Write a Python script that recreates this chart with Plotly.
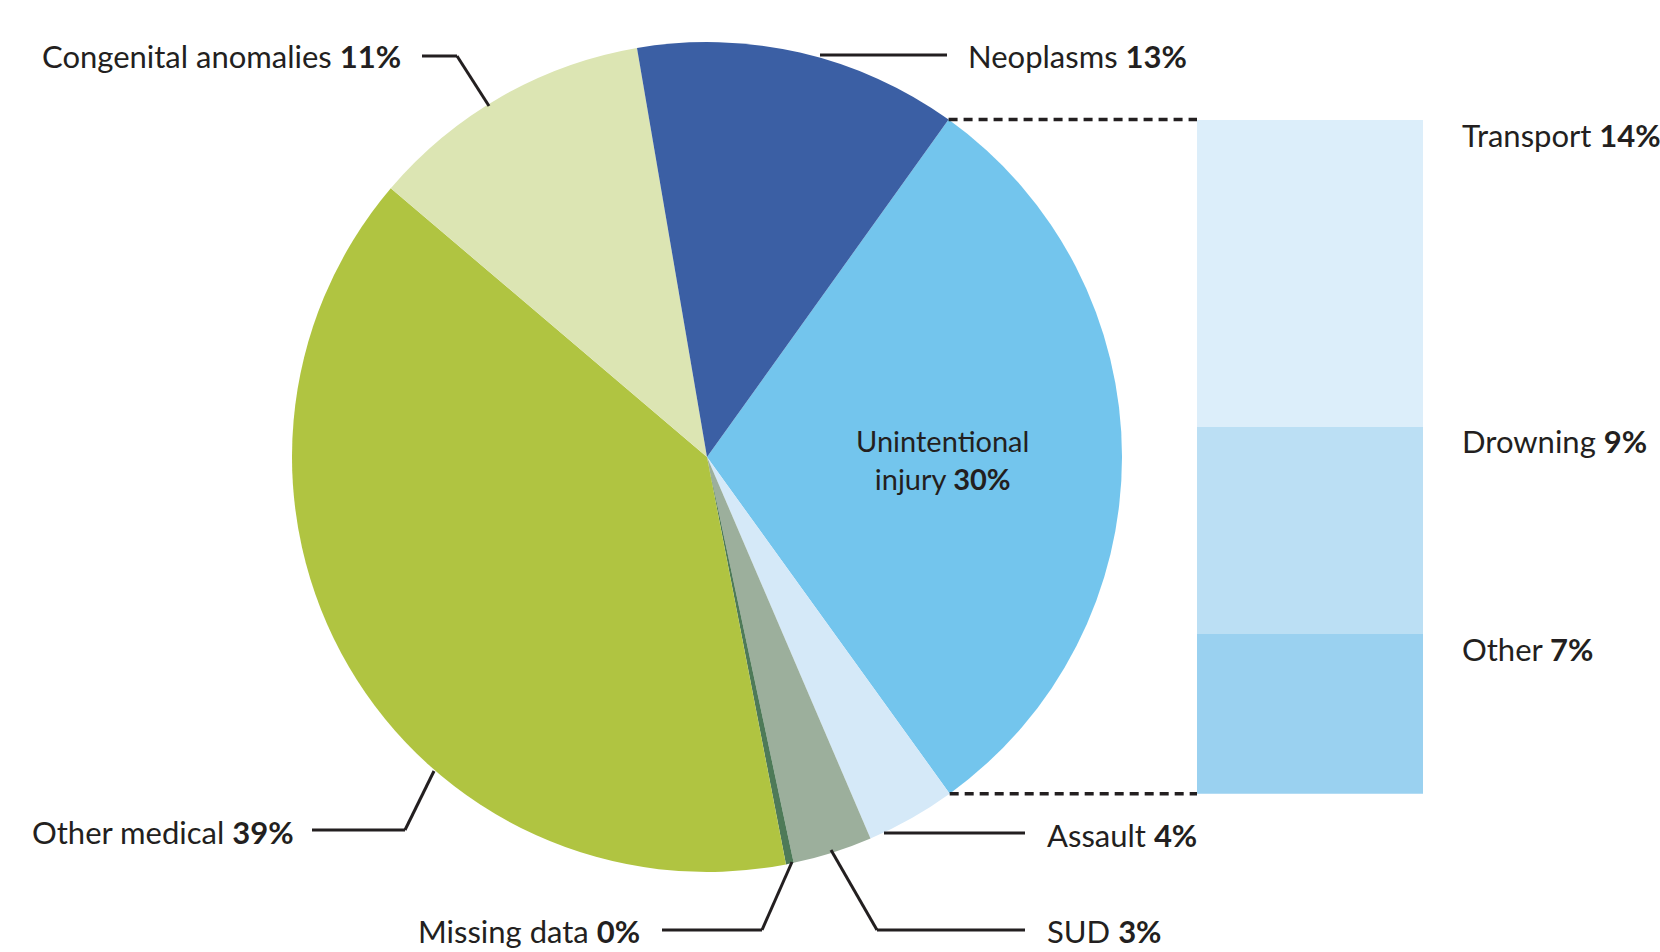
import math
import plotly.graph_objects as go

W, H = 1660, 952

# main pie, listed clockwise starting from the unintentional injury slice
pie_labels = ["Unintentional injury", "Assault", "SUD", "Missing data",
              "Other medical", "Congenital anomalies", "Neoplasms"]
pie_values = [30.2, 3.5, 3.1, 0.3, 39.3, 11.1, 12.6]
pie_pct = ["30%", "4%", "3%", "0%", "39%", "11%", "13%"]
pie_colors = ["#73c5ed", "#d5e9f8", "#9caf9c", "#4e7a58",
              "#b0c441", "#dce5b3", "#3b5fa4"]

# breakdown of unintentional injury, top to bottom
sub_labels = ["Transport", "Drowning", "Other"]
sub_values = [13.6, 9.2, 7.1]
sub_pct = ["14%", "9%", "7%"]
sub_colors = ["#dceefa", "#bbdff4", "#9ad1f0"]

FONT = "Lato"
INK = "#231f20"

# pie geometry in pixels
cx, cy, r = 707, 457, 415
start = 35.6
a0 = math.radians(start)
a1 = math.radians(start + 360 * pie_values[0] / sum(pie_values))
top_pt = (cx + r * math.sin(a0), cy - r * math.cos(a0))
bot_pt = (cx + r * math.sin(a1), cy - r * math.cos(a1))
bar_x0, bar_x1 = 1197, 1423


def px(x, y):
    return x / W, 1 - y / H


fig = go.Figure()

fig.add_trace(go.Pie(
    labels=pie_labels, values=pie_values, sort=False, direction="clockwise",
    rotation=start, marker=dict(colors=pie_colors, line=dict(width=0)),
    textinfo="none", hoverinfo="label+percent", showlegend=False,
    domain=dict(x=[(cx - r) / W, (cx + r) / W], y=[1 - (cy + r) / H, 1 - (cy - r) / H]),
))

# stacked bar, bottom segment first
for lab, val, col in reversed(list(zip(sub_labels, sub_values, sub_colors))):
    fig.add_trace(go.Bar(x=[0], y=[val], name=lab, marker=dict(color=col, line=dict(width=0)),
                         width=1, showlegend=False, xaxis="x2", yaxis="y2"))

total = sum(sub_values)
fig.update_layout(
    barmode="stack", bargap=0,
    xaxis2=dict(domain=[bar_x0 / W, bar_x1 / W], range=[-0.5, 0.5], visible=False, anchor="y2"),
    yaxis2=dict(domain=[1 - bot_pt[1] / H, 1 - top_pt[1] / H], range=[0, total], visible=False, anchor="x2"),
    xaxis=dict(visible=False), yaxis=dict(visible=False),
)

shapes = []
# dashed connectors
for p in (top_pt, bot_pt):
    x0, y0 = px(p[0], p[1])
    x1, y1 = px(bar_x0, p[1])
    shapes.append(dict(type="line", xref="paper", yref="paper", x0=x0, y0=y0, x1=x1, y1=y1,
                       line=dict(color=INK, width=3.5, dash="9px,6px")))

# leader lines
leaders = [
    [(820, 55), (947, 55)],                       # Neoplasms
    [(422, 56), (457, 56), (489, 106)],           # Congenital
    [(312, 830), (405, 830), (434, 771)],         # Other medical
    [(662, 930), (762, 930), (792, 862)],         # Missing data
    [(831, 850), (877, 930), (1025, 930)],        # SUD
    [(884, 833), (1025, 833)],                    # Assault
]
for pts in leaders:
    for (xa, ya), (xb, yb) in zip(pts[:-1], pts[1:]):
        x0, y0 = px(xa, ya)
        x1, y1 = px(xb, yb)
        shapes.append(dict(type="line", xref="paper", yref="paper", x0=x0, y0=y0, x1=x1, y1=y1,
                           line=dict(color=INK, width=3)))

fs = 31
annotations = []


def lab(text, x, y, anchor):
    xp, yp = px(x, y)
    annotations.append(dict(text=text, x=xp, y=yp, xref="paper", yref="paper",
                            xanchor=anchor, yanchor="middle", showarrow=False,
                            font=dict(family=FONT, size=fs, color=INK)))


def fmt(name, pct):
    return f"{name} <b>{pct}</b>"


idx = {n: i for i, n in enumerate(pie_labels)}
lab(fmt("Neoplasms", pie_pct[idx["Neoplasms"]]), 966, 56, "left")
lab(fmt("Congenital anomalies", pie_pct[idx["Congenital anomalies"]]), 403, 56, "right")
lab(fmt("Other medical", pie_pct[idx["Other medical"]]), 296, 832, "right")
lab(fmt("Missing data", pie_pct[idx["Missing data"]]), 642, 931, "right")
lab(fmt("SUD", pie_pct[idx["SUD"]]), 1045, 931, "left")
lab(fmt("Assault", pie_pct[idx["Assault"]]), 1045, 835, "left")

xp, yp = px(942, 459)
annotations.append(dict(text="Unintentional<br>injury <b>" + pie_pct[0] + "</b>", x=xp, y=yp,
                        xref="paper", yref="paper", xanchor="center", yanchor="middle",
                        showarrow=False, align="center",
                        font=dict(family=FONT, size=29, color=INK)))

# bar segment labels, near the top of each segment
tops = []
acc = total
for v in sub_values:
    tops.append(acc)
    acc -= v
for name, pct, t in zip(sub_labels, sub_pct, tops):
    annotations.append(dict(text=fmt(name, pct), x=1460 / W, y=t, xref="paper", yref="y2",
                            xanchor="left", yanchor="top", yshift=6, showarrow=False,
                            font=dict(family=FONT, size=fs, color=INK)))

fig.update_layout(
    width=W, height=H, margin=dict(l=0, r=0, t=0, b=0),
    paper_bgcolor="white", plot_bgcolor="white",
    shapes=shapes, annotations=annotations,
)

fig.write_html("out.html", config={"displayModeBar": False},
               post_script="document.body.style.margin='0';document.body.style.overflow='hidden';")
